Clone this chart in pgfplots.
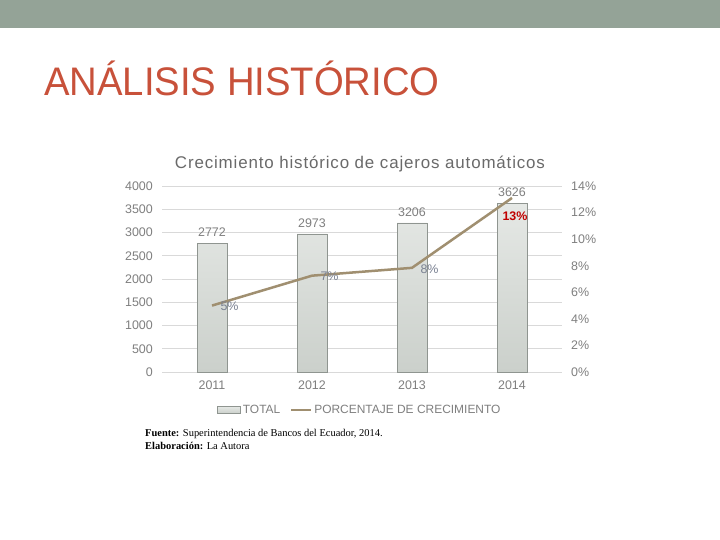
\documentclass[border=0pt]{standalone}
\usepackage{pgfplots}
\pgfplotsset{compat=1.18}
\usepackage{fontspec}
\setmainfont{Liberation Sans}
\newfontfamily\seriffont{Liberation Serif}
\newfontfamily\spacedfont[LetterSpace=5]{Liberation Sans}
\definecolor{band}{HTML}{94A397}
\definecolor{titlered}{HTML}{C8513A}
\definecolor{gridc}{HTML}{D9D9D9}
\definecolor{tickc}{HTML}{7F7F7F}
\definecolor{barline}{HTML}{8F9590}
\definecolor{bartop}{HTML}{E5E8E5}
\definecolor{barbot}{HTML}{CBD0CB}
\definecolor{linec}{HTML}{A08F70}
\definecolor{pct}{HTML}{7A8192}
\definecolor{pctred}{HTML}{C00000}
\definecolor{ctitle}{HTML}{6A6A6A}
\begin{document}
\begin{tikzpicture}
\path[use as bounding box, fill=white] (0,0) rectangle (720bp,540bp);
\fill[band] (0,512bp) rectangle (720bp,540bp);
\node[anchor=base west, inner sep=0pt, text=titlered, font=\fontsize{40}{40}\selectfont, xscale=0.96] at (44bp,444bp) {ANÁLISIS HISTÓRICO};
\node[anchor=base, inner sep=0pt, text=ctitle, font=\spacedfont\fontsize{17}{17}\selectfont] at (360bp,371bp) {Crecimiento histórico de cajeros automáticos};
\begin{axis}[
 at={(162bp,168bp)}, anchor=south west, width=400bp, height=186bp, scale only axis,
 xmin=-0.5, xmax=3.5, ymin=0, ymax=4000,
 ytick={0,500,...,4000}, xtick={0,1,2,3}, xticklabels={2011,2012,2013,2014},
 axis line style={draw=none}, major tick length=0pt,
 ymajorgrids, grid style={gridc, line width=0.8bp},
 ticklabel style={font=\fontsize{12.5}{14}\selectfont, text=tickc},
 /pgf/number format/assume math mode=true, /pgf/number format/1000 sep={},
 yticklabel style={anchor=east, inner sep=0pt, xshift=-9bp},
 xticklabel style={anchor=north, inner sep=0pt, yshift=-9bp},
 clip=false,
]
\addplot[ybar, bar width=30bp, draw=barline, top color=bartop, bottom color=barbot,
 nodes near coords, every node near coord/.append style={font=\fontsize{12.5}{14}\selectfont, text=tickc, yshift=3bp}] coordinates {(0,2772)(1,2973)(2,3206)(3,3626)};
\end{axis}
\begin{axis}[
 at={(162bp,168bp)}, anchor=south west, width=400bp, height=186bp, scale only axis,
 xmin=-0.5, xmax=3.5, ymin=0, ymax=14,
 ytick={0,2,...,14}, yticklabel pos=right, yticklabel={\pgfmathprintnumber{\tick}\%},
 xtick=\empty,
 axis line style={draw=none}, major tick length=0pt,
 ticklabel style={font=\fontsize{12.5}{14}\selectfont, text=tickc},
 /pgf/number format/assume math mode=true,
 yticklabel style={anchor=west, inner sep=0pt, xshift=9bp},
 clip=false,
 legend style={at={(0.495,-0.204)}, anchor=center, draw=none, fill=none, legend columns=2,
   font=\fontsize{12}{14}\selectfont, text=tickc, inner sep=0pt,
   /tikz/every even column/.append style={column sep=8bp}},
]
\addlegendimage{legend image code/.code={\draw[barline, top color=bartop, bottom color=barbot] (0bp,-3.5bp) rectangle (23bp,3.5bp);}}
\addlegendentry{TOTAL}
\addplot[linec, line width=2.5bp, mark=none, legend image code/.code={\draw[linec, line width=2bp] (0bp,0bp) -- (20bp,0bp);}] coordinates {(0,5.0)(1,7.25)(2,7.84)(3,13.1)};
\addlegendentry{PORCENTAJE DE CRECIMIENTO}
\addplot[draw=none, mark=none, forget plot, point meta=explicit symbolic, nodes near coords,
 every node near coord/.append style={anchor=west, xshift=5bp, yshift=-1bp, text=pct, font=\fontsize{12.5}{14}\selectfont}]
 coordinates {(0,5.0)[5\%] (1,7.25)[7\%] (2,7.84)[8\%]};
\addplot[draw=none, mark=none, forget plot, point meta=explicit symbolic, nodes near coords,
 every node near coord/.append style={anchor=center, xshift=3bp, yshift=-18bp, text=pctred, font=\bfseries\fontsize{12.5}{14}\selectfont}]
 coordinates {(3,13.1)[13\%]};
\end{axis}
\node[anchor=base west, inner sep=0pt, font=\seriffont\fontsize{10.5}{13}\selectfont] at (145bp,103bp) {\textbf{Fuente:} Superintendencia de Bancos del Ecuador, 2014.};
\node[anchor=base west, inner sep=0pt, font=\seriffont\fontsize{10.5}{13}\selectfont] at (145bp,90bp) {\textbf{Elaboración:} La Autora};
\end{tikzpicture}
\end{document}
